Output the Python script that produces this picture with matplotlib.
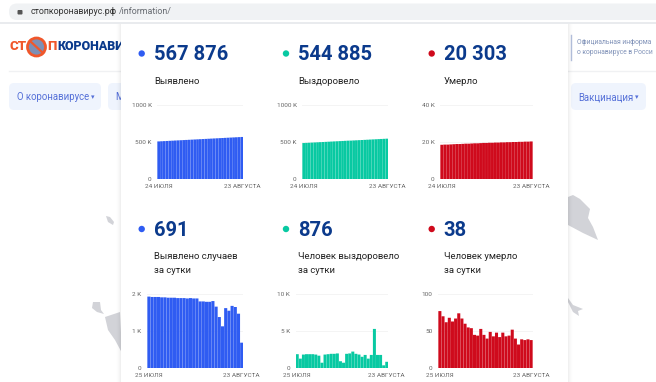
import matplotlib
matplotlib.use('Agg')
import matplotlib.pyplot as plt
from matplotlib.patches import Circle, FancyBboxPatch, Polygon, Rectangle

plt.rcParams['font.family'] = ['Roboto', 'DejaVu Sans']

W, H = 656, 382

# cumulative series, thousands
detected = [508, 510, 512, 514, 516, 518, 520, 522, 524, 526, 528, 530, 532, 534, 536, 538,
            540, 542, 544, 546, 548, 550, 552, 554, 556, 558, 560, 562, 564, 566, 568]
recovered = [486, 488, 490, 492, 494, 496, 498, 500, 502, 504, 506, 508, 510, 512, 514, 516,
             518, 519, 521, 523, 525, 527, 529, 531, 533, 535, 537, 539, 541, 543, 545]
deaths = [18.5, 18.6, 18.6, 18.7, 18.8, 18.9, 18.9, 19.0, 19.1, 19.1, 19.2, 19.3, 19.3, 19.4, 19.5, 19.5,
          19.6, 19.6, 19.7, 19.7, 19.8, 19.8, 19.9, 19.9, 20.0, 20.0, 20.1, 20.1, 20.2, 20.2, 20.3]

# daily series
detected_day = [1.93, 1.92, 1.92, 1.92, 1.91, 1.91, 1.90, 1.90, 1.90, 1.89, 1.89, 1.89, 1.88, 1.89, 1.88,
                1.88, 1.80, 1.80, 1.79, 1.79, 1.81, 1.66, 1.38, 1.13, 1.62, 1.55, 1.68, 1.65, 1.47, 0.69]
recovered_day = [1.9, 1.3, 1.85, 1.9, 1.9, 1.9, 1.85, 1.7, 0.75, 1.85, 1.9, 1.95, 1.95, 2.0, 0.95,
                 0.75, 1.95, 2.0, 2.25, 1.95, 1.85, 1.55, 1.8, 1.3, 1.8, 5.3, 1.8, 1.8, 0.4, 0.876]
deaths_day = [77, 70, 62, 68, 63, 67, 74, 67, 60, 55, 54, 45, 44, 53, 45,
              40, 49, 43, 48, 42, 48, 43, 44, 52, 40, 32, 39, 38, 39, 38]

totals = ['567 876', '544 885', '20 303', '691', '876', '38']
captions = ['Выявлено', 'Выздоровело', 'Умерло',
            'Выявлено случаев\nза сутки', 'Человек выздоровело\nза сутки', 'Человек умерло\nза сутки']
colors = ['#2f5cf2', '#08c9a2', '#cf0a1c']

top_ticks = [[0, 500, 1000], [0, 500, 1000], [0, 20, 40]]
top_labels = [['0', '500 K', '1000 K'], ['0', '500 K', '1000 K'], ['0', '20 K', '40 K']]
day_ticks = [[0, 1, 2], [0, 5, 10], [0, 50, 100]]
day_labels = [['0', '1 K', '2 K'], ['0', '5 K', '10 K'], ['0', '50', '100']]
top_dates = ['24 ИЮЛЯ', '23 АВГУСТА']
day_dates = ['25 ИЮЛЯ', '23 АВГУСТА']

fig = plt.figure(figsize=(W / 100, H / 100), dpi=100)
bg = fig.add_axes([0, 0, 1, 1])
bg.set_xlim(0, W)
bg.set_ylim(H, 0)
bg.axis('off')

# browser bar
bg.add_patch(FancyBboxPatch((9, 3.5), 670, 16.5, boxstyle='round,pad=0,rounding_size=8', fc='#f0f2f4', ec='none'))
bg.add_patch(Rectangle((0, 22), W, 2, fc='#e9ebee', ec='none'))
bg.add_patch(FancyBboxPatch((17.5, 10), 5, 4.5, boxstyle='round,pad=0,rounding_size=1', fc='#555555', ec='none'))
bg.text(30.5, 12, 'стопкоронавирус.рф', fontsize=6.4, color='#333333', va='center')
bg.text(118.5, 12, '/information/', fontsize=6.4, color='#666a70', va='center')

# site header behind the panel
bg.text(9, 47, 'СТ', fontsize=9.5, fontweight='black', color='#f0572b', va='center')
bg.add_patch(Circle((36.5, 47), 9, fc='#7d8fb5', ec='#f0572b', lw=2))
bg.plot([30, 43], [41, 53], color='#f0572b', lw=1.6)
bg.text(47, 47, 'П', fontsize=9.5, fontweight='black', color='#f0572b', va='center')
bg.text(57, 47, 'КОРОНАВИ', fontsize=9, fontweight='black', color='#0b3a8c', va='center')
bg.plot([9, 122], [71, 71], color='#f0f1f3', lw=1)
bg.plot([568, 656], [71, 71], color='#f0f1f3', lw=1)
for x0, wd in [(9, 92), (108, 40), (571, 75)]:
    bg.add_patch(FancyBboxPatch((x0, 83), wd, 27, boxstyle='round,pad=0,rounding_size=5', fc='#eff4fd', ec='none'))
bg.text(17, 97, 'О коронавирусе', fontsize=6.9, color='#5570d8', va='center')
bg.text(90.5, 97.5, '▾', fontsize=5, color='#5570d8', va='center', family='DejaVu Sans')
bg.text(115, 97, 'М', fontsize=6.9, color='#5570d8', va='center')
bg.text(578, 97, 'Вакцинация', fontsize=6.9, color='#5570d8', va='center')
bg.text(635, 97.5, '▾', fontsize=5, color='#5570d8', va='center', family='DejaVu Sans')
bg.plot([571, 571], [35, 60], color='#b4c0dc', lw=1)
bg.text(577, 42, 'Официальная информа', fontsize=4.9, color='#8092b8', va='center')
bg.text(577, 52, 'о коронавирусе в Росси', fontsize=4.9, color='#8092b8', va='center')

# map fragments
map_grey = '#d2d3d8'
bg.add_patch(Polygon([(106, 216), (110, 217), (114, 222), (113, 225), (108, 222)], fc=map_grey, ec='none'))
bg.add_patch(Polygon([(93, 302), (100, 302), (101, 310), (104, 314), (97, 312), (92, 308)], fc=map_grey, ec='none'))
bg.add_patch(Polygon([(105, 317), (120, 312), (122, 353), (115, 340), (108, 330)], fc=map_grey, ec='none'))
bg.add_patch(Polygon([(568, 197), (573, 195), (580, 199), (590, 209), (588, 218), (593, 227),
                      (598, 240), (583, 233), (568, 225)], fc=map_grey, ec='none'))
bg.add_patch(Polygon([(568, 298), (573, 305), (583, 309), (578, 311), (579, 316), (573, 312), (568, 302)],
                     fc=map_grey, ec='none'))

# white panel and its soft shadow
for i, a in enumerate([0.005, 0.008, 0.01, 0.015, 0.02]):
    grow = 5 - i
    bg.add_patch(Rectangle((121 - grow, 24), 447 + 2 * grow, H, fc='black', alpha=a, ec='none', zorder=4))
bg.add_patch(Rectangle((121, 24), 447, H, fc='white', ec='none', zorder=5))

text_x = [154, 298.5, 443.7] * 2
dot_x = [141.7, 286, 431.7] * 2
dot_y = [53.5, 53.5, 53.5, 229, 229, 229]
num_y = [55, 55, 55, 230.5, 230.5, 230.5]
cap_y = [81, 81, 81, 263.5, 263.5, 263.5]
for i in range(6):
    c = colors[i % 3]
    bg.add_patch(Circle((dot_x[i], dot_y[i]), 3.2, fc=c, ec='none', zorder=6))
    bg.text(text_x[i], num_y[i], totals[i], fontsize=14.5, fontweight='bold', color='#0b3a8c',
            va='center', zorder=6)
    bg.text(text_x[i], cap_y[i], captions[i], fontsize=6.8, color='#222222', va='center',
            linespacing=1.6, zorder=6)


def bar_chart(x0, x1, y0, y1, values, color, ticks, labels, dates):
    ax = fig.add_axes([x0 / W, 1 - y0 / H, (x1 - x0) / W, (y0 - y1) / H])
    ax.patch.set_alpha(0)
    bars = ax.bar(range(len(values)), values, width=0.97, color=color, zorder=3)
    for b in bars:
        b.set_snap(False)
    ax.set_xlim(-0.5, len(values) - 0.5)
    ax.set_ylim(0, ticks[-1])
    ax.set_yticks(ticks)
    ax.set_yticklabels(labels)
    ax.set_xticks([0, len(values) - 1])
    ax.set_xticklabels(dates)
    ax.tick_params(length=0, labelsize=4.6, labelcolor='#666666')
    ax.tick_params(axis='y', pad=4)
    ax.tick_params(axis='x', pad=3.5)
    ax.grid(axis='y', color='#f4f4f4', lw=0.7, zorder=0)
    for s in ax.spines.values():
        s.set_visible(False)
    return ax


top_x = [(157.3, 243.3), (302.3, 388.3), (440.3, 532.7)]
day_x = [(147.3, 243.3), (295.7, 388.3), (438.3, 532.7)]
top_series = [detected, recovered, deaths]
day_series = [detected_day, recovered_day, deaths_day]

for i in range(3):
    bar_chart(top_x[i][0], top_x[i][1], 179, 105, top_series[i], colors[i],
              top_ticks[i], top_labels[i], top_dates)
    bar_chart(day_x[i][0], day_x[i][1], 368.3, 294, day_series[i], colors[i],
              day_ticks[i], day_labels[i], day_dates)

fig.savefig('out.png', dpi=100)
